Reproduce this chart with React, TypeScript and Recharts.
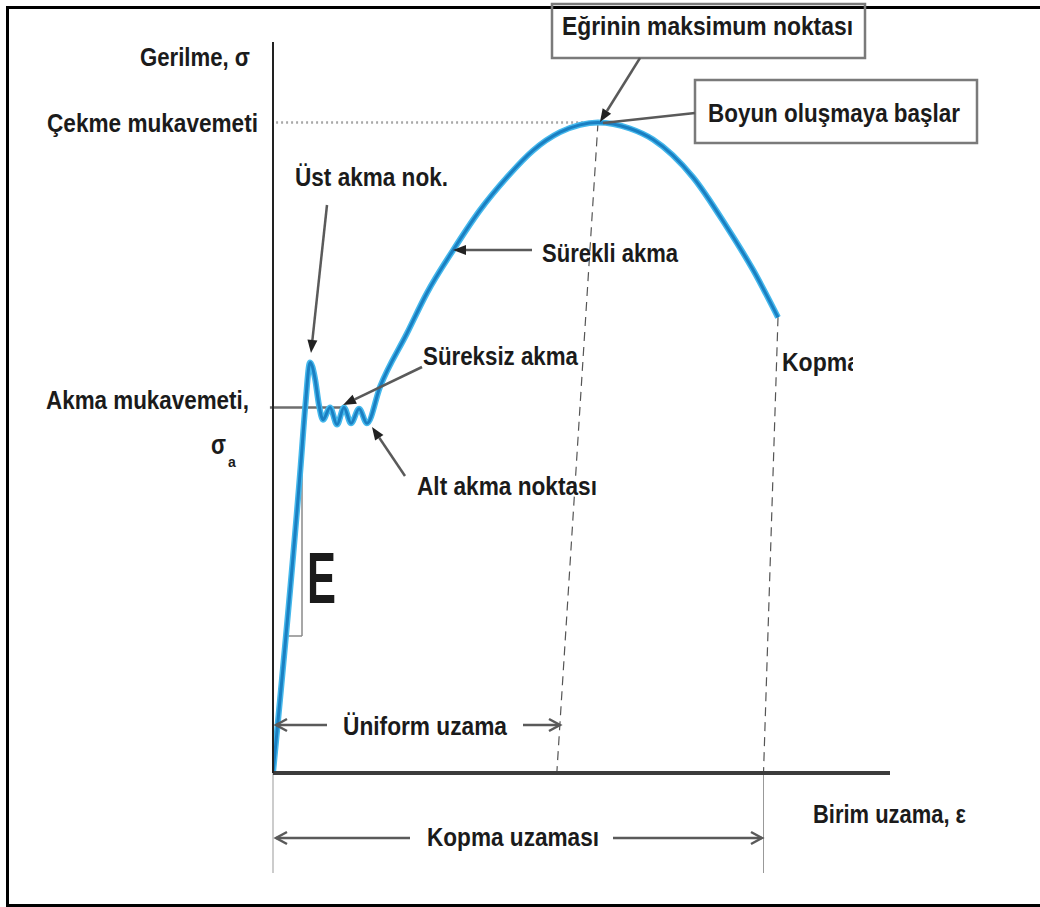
import { LineChart, Line, XAxis, YAxis, ReferenceLine, ReferenceDot, ReferenceArea } from "recharts"

// ─── Data ────────────────────────────────────────────────────────────────────
// strain ε in %, stress σ in MPa
const strain = [0, 1.8, 2.1, 2.4, 2.72, 2.98, 3.24, 3.7, 4.15, 4.6, 5.06, 5.58, 6.09, 6.94, 8.69, 9.98, 11.67, 13.42, 15.17, 16.86, 18.61, 19.9, 21.07, 23.14, 24.64, 27.23, 29.43, 31.12, 32.74]
const stress = [0, 253, 302, 337, 324, 302, 290, 300, 286, 300, 287, 299, 287, 317, 361, 394, 429, 462, 489, 511, 526, 532, 534, 529, 520, 489, 448, 413, 374]

const YIELD_STRESS = 300
const UNIFORM_ELONGATION = 18.4
const FRACTURE_ELONGATION = 31.8

const yTickLabels = ["Akma mukavemeti,", "Çekme mukavemeti"]

// ─── Layout ──────────────────────────────────────────────────────────────────
const W = 1040
const H = 907
const PLOT = { left: 273, top: 42, right: 890, bottom: 773 }
const X_DOMAIN: [number, number] = [0, 40]
const Y_DOMAIN: [number, number] = [0, 600]
const FONT = "'Liberation Sans', Arial, sans-serif"
const INK = "#1b1b1b"

const curve = strain.map((s, i) => ({ strain: s, stress: stress[i] }))
const UTS = Math.max(...stress)
const PEAK_STRAIN = strain[stress.indexOf(UTS)]
const LAST = curve[curve.length - 1]

/** page pixel -> data units, only used to place the annotations */
const px = (x: number, y: number) => ({
        x: X_DOMAIN[0] + ((x - PLOT.left) / (PLOT.right - PLOT.left)) * (X_DOMAIN[1] - X_DOMAIN[0]),
        y: Y_DOMAIN[0] + ((PLOT.bottom - y) / (PLOT.bottom - PLOT.top)) * (Y_DOMAIN[1] - Y_DOMAIN[0]),
})

type TextSpec = { text: string; x: number; y: number; size: number; width: number; clipRight?: number }

const LABELS: TextSpec[] = [
        { text: "Gerilme, σ", x: 140, y: 66, size: 25, width: 110 },
        { text: "Üst akma nok.", x: 295, y: 186, size: 25, width: 153 },
        { text: "Süreksiz akma", x: 423, y: 365, size: 25, width: 155 },
        { text: "Sürekli akma", x: 542, y: 262, size: 25, width: 136 },
        { text: "Eğrinin maksimum noktası", x: 562, y: 35, size: 25, width: 291 },
        { text: "Boyun oluşmaya başlar", x: 708, y: 122, size: 26, width: 252 },
        { text: "Kopma", x: 782, y: 371, size: 26, width: 78, clipRight: 853 },
        { text: "Alt akma noktası", x: 417, y: 495, size: 25, width: 180 },
        { text: "Üniform uzama", x: 343, y: 735, size: 26, width: 164 },
        { text: "Kopma uzaması", x: 427, y: 846, size: 26, width: 172 },
        { text: "Birim uzama, ε", x: 813, y: 823, size: 25, width: 153 },
        { text: "E", x: 307, y: 603, size: 72, width: 29 },
]

type ArrowSpec = { from: [number, number]; to: [number, number]; head: "solid" | "open" | "none" }

const ARROWS: ArrowSpec[] = [
        { from: [327, 205], to: [311, 353], head: "solid" },
        { from: [422, 367], to: [343, 405], head: "solid" },
        { from: [405, 476], to: [372, 427], head: "solid" },
        { from: [532, 250], to: [453, 250], head: "solid" },
        { from: [640, 58], to: [600, 122], head: "solid" },
        { from: [695, 113], to: [603, 123], head: "none" },
        { from: [327, 725], to: [276, 725], head: "open" },
        { from: [523, 725], to: [560, 725], head: "open" },
        { from: [410, 838], to: [276, 838], head: "open" },
        { from: [613, 838], to: [762, 838], head: "open" },
]

const BOXES = [
        { x1: 552, y1: 4, x2: 865, y2: 58 },
        { x1: 695, y1: 80, x2: 977, y2: 143 },
]

// ─── Shapes ──────────────────────────────────────────────────────────────────
const textShape = (t: TextSpec, i: number) => (p: any) => {
        const clipId = `clip-label-${i}`
        return (
                <g>
                        {t.clipRight != null && (
                                <defs>
                                        <clipPath id={clipId}>
                                                <rect x={0} y={0} width={t.clipRight} height={H} />
                                        </clipPath>
                                </defs>
                        )}
                        <text
                                x={p.cx}
                                y={p.cy}
                                fontFamily={FONT}
                                fontWeight="bold"
                                fontSize={t.size}
                                fill={INK}
                                textLength={t.width}
                                lengthAdjust="spacingAndGlyphs"
                                clipPath={t.clipRight != null ? `url(#${clipId})` : undefined}
                        >
                                {t.text}
                        </text>
                </g>
        )
}

const arrowShape = (head: ArrowSpec["head"]) => (p: any) => {
        const { x1, y1, x2, y2 } = p
        const a = Math.atan2(y2 - y1, x2 - x1)
        const L = head === "open" ? 11 : 13
        const hw = head === "open" ? 6 : 5
        const bx = x2 - L * Math.cos(a)
        const by = y2 - L * Math.sin(a)
        const nx = -Math.sin(a) * hw
        const ny = Math.cos(a) * hw
        return (
                <g>
                        <line
                                x1={x1}
                                y1={y1}
                                x2={head === "solid" ? bx : x2}
                                y2={head === "solid" ? by : y2}
                                stroke="#5a5a5a"
                                strokeWidth={2.5}
                        />
                        {head === "solid" && (
                                <polygon points={`${x2},${y2} ${bx + nx},${by + ny} ${bx - nx},${by - ny}`} fill="#222" />
                        )}
                        {head === "open" && (
                                <polyline
                                        points={`${bx + nx},${by + ny} ${x2},${y2} ${bx - nx},${by - ny}`}
                                        fill="none"
                                        stroke="#5a5a5a"
                                        strokeWidth={2.5}
                                />
                        )}
                </g>
        )
}

function YTick({ y, payload }: any) {
        const isYield = payload.value === YIELD_STRESS
        if (isYield) {
                return (
                        <g fontFamily={FONT} fontWeight="bold" fill={INK}>
                                <text x={249} y={y + 1} fontSize={25} textAnchor="end" textLength={203} lengthAdjust="spacingAndGlyphs">
                                        {yTickLabels[0]}
                                </text>
                                {/* σ with subscript a, one text run */}
                                <text x={211} y={y + 46} fontSize={28}>
                                        <tspan textLength={15} lengthAdjust="spacingAndGlyphs">σ</tspan>
                                        <tspan fontSize={14} dx={2} dy={13}>a</tspan>
                                </text>
                        </g>
                )
        }
        return (
                <text
                        x={258}
                        y={y + 10}
                        fontFamily={FONT}
                        fontWeight="bold"
                        fontSize={25}
                        fill={INK}
                        textAnchor="end"
                        textLength={211}
                        lengthAdjust="spacingAndGlyphs"
                >
                        {yTickLabels[1]}
                </text>
        )
}

const seg = (a: [number, number], b: [number, number]) => [px(a[0], a[1]), px(b[0], b[1])]

export default function App() {
        const below = px(0, 873).y
        return (
                <div style={{ position: "absolute", left: 0, top: 0, width: W, height: H, background: "#fff", overflow: "hidden" }}>
                        <div
                                style={{
                                        position: "absolute",
                                        left: 6,
                                        top: 6,
                                        width: W - 6,
                                        height: 901,
                                        borderTop: "3px solid #000",
                                        borderLeft: "3px solid #000",
                                        borderBottom: "3px solid #000",
                                        boxSizing: "border-box",
                                }}
                        />
                        <div style={{ position: "absolute", left: 0, top: 0 }}>
                                <LineChart
                                        width={W}
                                        height={H}
                                        data={curve}
                                        margin={{ top: PLOT.top, left: PLOT.left - 1, right: W - PLOT.right, bottom: H - PLOT.bottom - 1 }}
                                >
                                        <XAxis
                                                dataKey="strain"
                                                type="number"
                                                domain={X_DOMAIN}
                                                allowDataOverflow
                                                height={1}
                                                tick={false}
                                                tickLine={false}
                                                axisLine={{ stroke: "#3c3c3c", strokeWidth: 4 }}
                                        />
                                        <YAxis
                                                type="number"
                                                domain={Y_DOMAIN}
                                                allowDataOverflow
                                                width={1}
                                                ticks={[YIELD_STRESS, UTS]}
                                                tick={<YTick />}
                                                tickLine={false}
                                                axisLine={{ stroke: "#222", strokeWidth: 2 }}
                                        />

                                        {/* guide lines */}
                                        <ReferenceLine
                                                segment={[{ x: 0.2, y: UTS }, { x: PEAK_STRAIN, y: UTS }]}
                                                stroke="#a8a8a8"
                                                strokeWidth={2.5}
                                                strokeDasharray="2 3"
                                                ifOverflow="visible"
                                        />
                                        <ReferenceLine
                                                segment={[{ x: -0.2, y: YIELD_STRESS }, { x: 4.55, y: YIELD_STRESS }]}
                                                stroke="#6e6e6e"
                                                strokeWidth={2.5}
                                                ifOverflow="visible"
                                        />
                                        <ReferenceLine
                                                segment={[{ x: PEAK_STRAIN, y: UTS }, { x: UNIFORM_ELONGATION, y: 0 }]}
                                                stroke="#555"
                                                strokeWidth={1.2}
                                                strokeDasharray="9 6"
                                                ifOverflow="visible"
                                        />
                                        <ReferenceLine
                                                segment={[{ x: LAST.strain, y: LAST.stress }, { x: FRACTURE_ELONGATION, y: 0 }]}
                                                stroke="#555"
                                                strokeWidth={1.2}
                                                strokeDasharray="9 6"
                                                ifOverflow="visible"
                                        />
                                        <ReferenceLine
                                                segment={[{ x: FRACTURE_ELONGATION, y: 0 }, { x: FRACTURE_ELONGATION, y: below }]}
                                                stroke="#999"
                                                strokeWidth={1}
                                                ifOverflow="visible"
                                        />
                                        <ReferenceLine
                                                segment={[{ x: 0, y: 0 }, { x: 0, y: below }]}
                                                stroke="#999"
                                                strokeWidth={1}
                                                ifOverflow="visible"
                                        />

                                        {/* E slope bracket */}
                                        <ReferenceLine segment={seg([302, 460], [302, 636])} stroke="#8a8a8a" strokeWidth={1.5} ifOverflow="visible" />
                                        <ReferenceLine segment={seg([287, 636], [302, 636])} stroke="#8a8a8a" strokeWidth={1.5} ifOverflow="visible" />

                                        {BOXES.map((b, i) => {
                                                const p1 = px(b.x1, b.y1)
                                                const p2 = px(b.x2, b.y2)
                                                return (
                                                        <ReferenceArea
                                                                key={`box-${i}`}
                                                                x1={p1.x}
                                                                x2={p2.x}
                                                                y1={p2.y}
                                                                y2={p1.y}
                                                                fill="none"
                                                                stroke="#7a7a7a"
                                                                strokeWidth={2.5}
                                                                ifOverflow="visible"
                                                        />
                                                )
                                        })}

                                        {/* curve: cyan halo + darker blue core */}
                                        <Line
                                                name="halo"
                                                dataKey="stress"
                                                type="monotone"
                                                stroke="#45b8ec"
                                                strokeWidth={6}
                                                dot={false}
                                                activeDot={false}
                                                isAnimationActive={false}
                                        />
                                        <Line
                                                name="stress"
                                                dataKey="stress"
                                                type="monotone"
                                                stroke="#1a7fc2"
                                                strokeWidth={3}
                                                dot={false}
                                                activeDot={false}
                                                isAnimationActive={false}
                                        />

                                        {ARROWS.map((a, i) => (
                                                <ReferenceLine
                                                        key={`arrow-${i}`}
                                                        segment={seg(a.from, a.to)}
                                                        ifOverflow="visible"
                                                        shape={arrowShape(a.head)}
                                                />
                                        ))}

                                        {LABELS.map((t, i) => {
                                                const p = px(t.x, t.y)
                                                return (
                                                        <ReferenceDot
                                                                key={`label-${i}`}
                                                                x={p.x}
                                                                y={p.y}
                                                                ifOverflow="visible"
                                                                shape={textShape(t, i)}
                                                        />
                                                )
                                        })}
                                </LineChart>
                        </div>
                </div>
        )
}
